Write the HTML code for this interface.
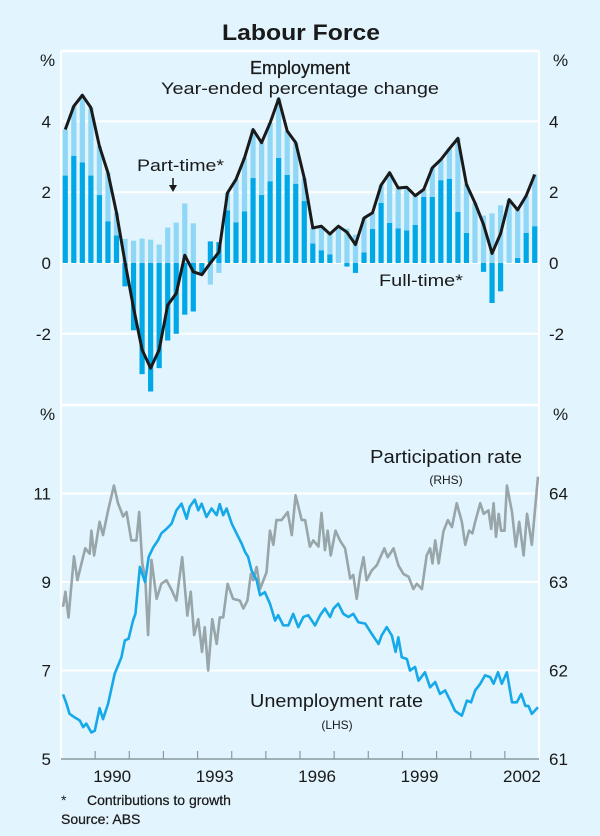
<!DOCTYPE html>
<html><head><meta charset="utf-8"><style>
html,body{margin:0;padding:0;background:#e2f4fd;}
svg{display:block;font-family:"Liberation Sans",Arial,sans-serif;}
</style></head><body>
<svg id="chart" width="600" height="836" viewBox="0 0 600 836" xmlns="http://www.w3.org/2000/svg">
<rect x="0" y="0" width="600" height="836" fill="#e2f4fd"/>
<text x="301" y="40" text-anchor="middle" font-size="22" font-weight="bold" fill="#1a1a1a" textLength="158" lengthAdjust="spacingAndGlyphs">Labour Force</text>
<g id="grid"></g>
<g id="bars"></g>
<g id="lines"></g>
<g id="axes"></g>
<text x="300" y="74" text-anchor="middle" font-size="18" fill="#1a1a1a" stroke="#1a1a1a" stroke-width="0.3">Employment</text>
<text x="300" y="94" text-anchor="middle" font-size="17" fill="#1a1a1a" textLength="278" lengthAdjust="spacingAndGlyphs">Year-ended percentage change</text>
<text x="137" y="171" font-size="17" fill="#1a1a1a" textLength="87" lengthAdjust="spacingAndGlyphs">Part-time*</text>
<line x1="173" y1="178" x2="173" y2="188" stroke="#1a1a1a" stroke-width="1.5"/>
<polygon points="169,185 177,185 173,192" fill="#1a1a1a"/>
<text x="379" y="286" font-size="17" fill="#1a1a1a" textLength="84" lengthAdjust="spacingAndGlyphs">Full-time*</text>
<text x="370" y="463" font-size="18" fill="#1a1a1a" textLength="152" lengthAdjust="spacingAndGlyphs">Participation rate</text>
<text x="446" y="484" text-anchor="middle" font-size="12" fill="#1a1a1a">(RHS)</text>
<text x="250" y="707" font-size="18" fill="#1a1a1a" textLength="173" lengthAdjust="spacingAndGlyphs">Unemployment rate</text>
<text x="337" y="729" text-anchor="middle" font-size="12" fill="#1a1a1a">(LHS)</text>
<text x="61" y="805" font-size="14" fill="#1a1a1a">*</text>
<text x="87" y="805" font-size="14" fill="#1a1a1a" stroke="#1a1a1a" stroke-width="0.25">Contributions to growth</text>
<text x="61" y="824" font-size="14" fill="#1a1a1a" stroke="#1a1a1a" stroke-width="0.25">Source: ABS</text>
</svg>
<script>
const ftValues=[2.47,3.03,2.84,2.47,1.92,1.18,0.78,-0.66,-1.9,-3.14,-3.63,-2.97,-2.19,-2.0,-1.46,-1.37,-0.28,0.61,0.59,1.49,1.15,1.46,2.4,1.92,2.31,2.97,2.49,2.24,1.75,0.55,0.36,0.24,0,-0.1,-0.28,0.3,0.96,1.7,1.13,0.98,0.92,1.08,1.87,1.87,2.34,2.38,1.44,0.85,0,-0.25,-1.13,-0.8,0,0.14,0.85,1.04];
const ptValues=[1.3,1.4,1.9,1.92,1.38,1.37,0.64,0.68,0.63,0.69,0.66,0.52,1.0,1.14,1.68,1.12,-0.05,-0.61,-0.28,0.49,1.21,1.51,1.37,1.48,1.65,1.67,1.24,1.16,0.65,0.44,0.68,0.58,1.04,0.97,0.8,0.97,0.46,0.5,1.42,1.14,1.22,0.82,0.21,0.82,0.58,0.85,2.08,1.37,1.7,1.34,1.4,1.63,1.79,1.36,1.05,1.46];
const barStartYear=1989;
const unempDates=[1989.06,1989.16,1989.25,1989.40,1989.55,1989.65,1989.74,1989.89,1989.99,1990.13,1990.23,1990.38,1990.57,1990.77,1990.87,1990.98,1991.11,1991.18,1991.31,1991.46,1991.57,1991.70,1991.84,1991.94,1992.09,1992.24,1992.38,1992.53,1992.68,1992.77,1992.92,1993.02,1993.12,1993.26,1993.41,1993.56,1993.65,1993.75,1993.85,1994.00,1994.14,1994.29,1994.39,1994.48,1994.58,1994.73,1994.83,1994.97,1995.12,1995.27,1995.36,1995.51,1995.66,1995.80,1995.95,1996.10,1996.24,1996.44,1996.59,1996.73,1996.88,1996.98,1997.12,1997.27,1997.42,1997.56,1997.71,1997.91,1998.10,1998.30,1998.39,1998.54,1998.69,1998.80,1998.88,1998.98,1999.13,1999.22,1999.37,1999.47,1999.66,1999.81,1999.96,2000.10,2000.25,2000.40,2000.54,2000.74,2000.89,2001.01,2001.13,2001.28,2001.42,2001.57,2001.67,2001.80,2001.91,2002.06,2002.21,2002.35,2002.48,2002.60,2002.69,2002.79,2002.97];
const unempValues=[6.46,6.25,6.02,5.94,5.87,5.72,5.8,5.6,5.64,6.15,5.9,6.25,6.92,7.3,7.68,7.72,8.13,8.28,9.34,9.0,9.57,9.78,9.94,10.1,10.2,10.32,10.62,10.77,10.43,10.7,10.86,10.62,10.77,10.47,10.66,10.51,10.76,10.51,10.66,10.32,10.1,9.87,9.68,9.57,9.26,9.04,8.7,8.77,8.51,8.13,8.25,8.02,8.02,8.28,7.98,8.21,8.25,8.02,8.25,8.4,8.21,8.4,8.51,8.28,8.21,8.28,8.09,8.06,7.83,7.6,7.79,7.98,7.79,7.42,7.75,7.3,7.26,7.0,7.08,6.77,6.96,6.62,6.74,6.47,6.55,6.32,6.09,5.98,6.32,6.28,6.55,6.7,6.89,6.85,6.7,6.96,6.7,6.96,6.28,6.28,6.47,6.2,6.2,6.02,6.17];
const partDates=[1989.06,1989.13,1989.22,1989.38,1989.48,1989.60,1989.71,1989.84,1989.89,1989.97,1990.13,1990.23,1990.38,1990.55,1990.67,1990.82,1990.92,1991.06,1991.21,1991.29,1991.38,1991.47,1991.55,1991.65,1991.80,1991.94,1992.09,1992.24,1992.38,1992.55,1992.70,1992.80,1992.90,1993.02,1993.13,1993.21,1993.31,1993.43,1993.56,1993.65,1993.75,1993.88,1994.04,1994.24,1994.34,1994.46,1994.56,1994.63,1994.73,1994.83,1995.02,1995.12,1995.22,1995.31,1995.46,1995.64,1995.76,1995.87,1996.05,1996.15,1996.29,1996.39,1996.54,1996.63,1996.73,1996.81,1996.90,1997.04,1997.17,1997.32,1997.47,1997.56,1997.66,1997.76,1997.86,1997.95,1998.10,1998.25,1998.47,1998.57,1998.74,1998.88,1999.03,1999.18,1999.32,1999.42,1999.57,1999.71,1999.81,1999.88,1999.96,2000.06,2000.20,2000.33,2000.45,2000.59,2000.74,2000.84,2000.95,2001.05,2001.13,2001.28,2001.38,2001.52,2001.60,2001.67,2001.74,2001.82,2001.89,2001.99,2002.06,2002.21,2002.32,2002.42,2002.55,2002.65,2002.79,2002.97];
const partValues=[62.72,62.89,62.6,63.29,63.02,63.21,63.38,63.32,63.58,63.3,63.68,63.53,63.81,64.09,63.89,63.74,63.79,63.47,63.47,63.79,63.21,63.04,62.4,63.25,62.81,62.98,63.02,62.91,62.79,63.28,62.62,62.89,62.4,62.58,62.21,62.49,62.0,62.58,62.3,62.6,62.6,62.98,62.81,62.79,62.7,62.79,63.09,63.02,63.17,62.92,63.11,63.58,63.42,63.7,63.7,63.79,63.53,63.98,63.7,63.7,63.4,63.47,63.4,63.78,63.36,63.58,63.3,63.58,63.47,63.38,63.04,63.08,62.81,63.09,63.28,63.02,63.13,63.19,63.38,63.28,63.38,63.19,63.09,63.06,62.92,62.98,62.92,63.3,63.38,63.21,63.47,63.21,63.57,63.7,63.62,63.89,63.68,63.42,63.58,63.55,63.68,63.89,63.77,63.81,63.6,63.89,63.51,63.77,63.58,63.58,64.09,63.79,63.4,63.68,63.3,63.77,63.42,64.19];
const topTicks=["4","2","0","-2"];
const topTickValues=[4,2,0,-2];
const lhsTickValues=[11,9,7,5];
const rhsTickValues=[64,63,62,61];
const yearLabels=["1990","1993","1996","1999","2002"];

const NS="http://www.w3.org/2000/svg";
const X0=61,X1=539,T0=1989,T1=2003;
const xT=t=>X0+(t-T0)*(X1-X0)/(T1-T0);
const yTop=v=>263-v*35.4;
const yL=v=>759-(v-5)*44.25;
const yR=v=>759-(v-61)*88.5;
function mk(tag,parent,attrs){const e=document.createElementNS(NS,tag);for(const k in attrs)e.setAttribute(k,attrs[k]);parent.appendChild(e);return e;}
const grid=document.getElementById('grid'),bars=document.getElementById('bars'),lines=document.getElementById('lines'),axes=document.getElementById('axes');

let fr=mk('line',grid,{x1:X0,y1:51,x2:X1,y2:51,stroke:'#fff','stroke-width':2.5});


let sep=mk('line',grid,{x1:X0,y1:405,x2:X1,y2:405,stroke:'#fff','stroke-width':2.5});


let lf=mk('line',grid,{x1:X0,y1:51,x2:X0,y2:759,stroke:'#fff','stroke-width':2});


let rf=mk('line',grid,{x1:X1,y1:51,x2:X1,y2:759,stroke:'#fff','stroke-width':2});


topTickValues.forEach((v,i)=>{
  const g=mk('line',grid,{x1:X0,y1:yTop(v),x2:X1,y2:yTop(v),stroke:'#fff','stroke-width':2});
  
  
  const a=mk('text',axes,{x:51,y:yTop(v)+6,'text-anchor':'end','font-size':17,fill:'#1a1a1a'});a.textContent=topTicks[i];
  
  
  const b=mk('text',axes,{x:549,y:yTop(v)+6,'font-size':17,fill:'#1a1a1a'});b.textContent=topTicks[i];
  
  
});
lhsTickValues.forEach((v,i)=>{
  if(v>5){const g=mk('line',grid,{x1:X0,y1:yL(v),x2:X1,y2:yL(v),stroke:'#fff','stroke-width':2});
  
  }
  const a=mk('text',axes,{x:51,y:yL(v)+6,'text-anchor':'end','font-size':17,fill:'#1a1a1a'});a.textContent=String(v);
  
  
  const b=mk('text',axes,{x:549,y:yR(rhsTickValues[i])+6,'font-size':17,fill:'#1a1a1a'});b.textContent=String(rhsTickValues[i]);
  
  
});
[[40,66],[553,66],[40,420],[553,420]].forEach(p=>{
  const t=mk('text',axes,{x:p[0],y:p[1],'font-size':17,fill:'#1a1a1a'});t.textContent='%';
  
  
});
let xa=mk('line',axes,{x1:X0,y1:759,x2:X1,y2:759,stroke:'#8a9aa0','stroke-width':1.5});


for(let y=1990;y<=2002;y++){
  const t=mk('line',axes,{x1:xT(y),y1:751,x2:xT(y),y2:759,stroke:'#8a9aa0','stroke-width':1.2});
  
  
}
yearLabels.forEach(l=>{
  const t=mk('text',axes,{x:xT(+l+0.5),y:782,'text-anchor':'middle','font-size':17,fill:'#1a1a1a'});t.textContent=l;
  
  
});

const bw=5.2, qw=(X1-X0)/(T1-T0)/4;
function bar(x,v0,v1,col,name){
  const ya=yTop(v0),yb=yTop(v1);
  const r=mk('rect',bars,{x:x-bw/2,y:Math.min(ya,yb),width:bw,height:Math.abs(ya-yb),fill:col});
  
  
}
const totals=[];
ftValues.forEach((f,i)=>{
  const p=ptValues[i];const x=xT(barStartYear)+qw*(i+0.5);
  bar(x,0,f,'#00a8e8','full-time-bar');
  if((f>=0&&p>=0)||(f<0&&p<0)) bar(x,f,f+p,'#8fd7f6','part-time-bar');
  else bar(x,0,p,'#8fd7f6','part-time-bar');
  totals.push([x,yTop(f+p)]);
});
let emp=mk('polyline',lines,{points:totals.map(p=>p.join(',')).join(' '),fill:'none',stroke:'#1a1a1a','stroke-width':3,'stroke-linejoin':'round'});


let pr=mk('polyline',lines,{points:partDates.map((d,i)=>xT(d)+','+yR(partValues[i])).join(' '),fill:'none',stroke:'#98a5a9','stroke-width':2.6,'stroke-linejoin':'round'});


let ur=mk('polyline',lines,{points:unempDates.map((d,i)=>xT(d)+','+yL(unempValues[i])).join(' '),fill:'none',stroke:'#16a9e9','stroke-width':2.6,'stroke-linejoin':'round'});


</script>
</body></html>
